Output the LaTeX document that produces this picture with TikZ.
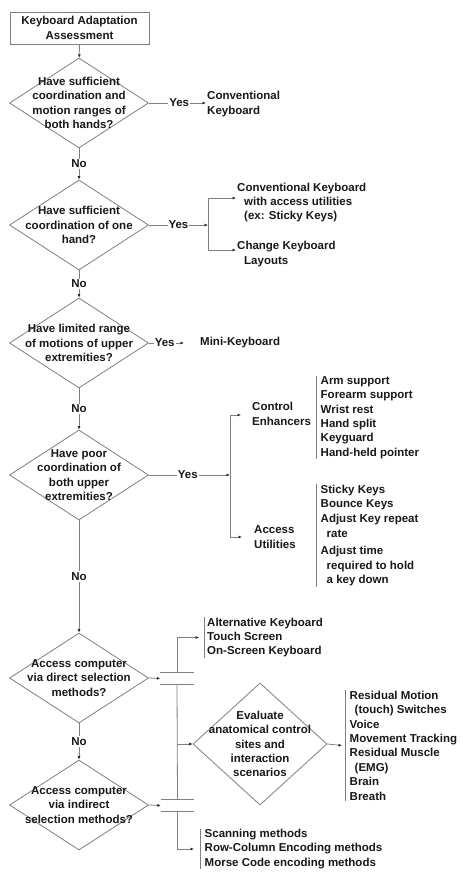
\documentclass[tikz,border=0pt]{standalone}
\usepackage{fontspec}
\setmainfont{Liberation Sans}
\usetikzlibrary{shapes.geometric,arrows.meta}
\definecolor{lg}{RGB}{128,128,128}
\definecolor{tx}{RGB}{25,25,25}
\begin{document}
\begin{tikzpicture}[x=1pt,y=-1pt,
  every node/.style={font=\fontsize{11.5}{14.4}\selectfont\bfseries, text=tx},
  ln/.style={draw=lg, line width=0.8pt},
  arr/.style={ln, -{Latex[length=3.5pt,width=3pt,color=black!85]}},
  qshape/.style={diamond, draw=lg, line width=0.8pt, minimum width=139pt, minimum height=90pt, inner sep=0pt},
  qtext/.style={align=center, inner sep=0pt},
  lab/.style={fill=white, inner sep=1pt},
  item/.style={align=left, anchor=west, inner xsep=1pt, inner ysep=1pt},
  listbox/.style={align=left, anchor=west, inner xsep=4.5pt, inner ysep=0.5pt},
  bridge/.style={minimum width=33pt, minimum height=11pt, inner sep=0pt},
  ]
\fill[white] (0,0) rectangle (461,875);
\useasboundingbox (0,0) rectangle (461,875);

% title
\node[draw=lg, line width=0.8pt, minimum width=139pt, minimum height=32pt, align=center, inner sep=0pt] (start) at (79.5,28) {Keyboard Adaptation\\Assessment};

% question 1
\node[qshape] (q1) at (79,103) {};
\node[qtext] (q1t) at (q1) {Have sufficient\\coordination and\\motion ranges of\\both hands?};
\node[item] (conv) at (206,104) {Conventional\\Keyboard};
\draw[arr] (start) -- (q1);
\draw[arr] (q1.east) -- node[lab,pos=0.53]{Yes} (q1.east -| conv.west);

% question 2
\node[qshape] (q2) at (79,225) {};
\node[qtext] (q2t) at (q2) {Have sufficient\\coordination of one\\hand?};
\draw[arr] (q1) -- node[lab]{No} (q2);
\coordinate (j2) at (208,225);
\coordinate (j2a) at (208,198);
\coordinate (j2b) at (208,250);
\node[item] (kb1) at (236,202.5) {Conventional Keyboard\\\hspace*{7pt}with access utilities\\\hspace*{7pt}(ex: Sticky Keys)};
\node[item] (kb2) at (236,254) {Change Keyboard\\\hspace*{7pt}Layouts};
\draw[arr] (q2.east) -- node[lab]{Yes} (j2);
\draw[ln] (j2a) -- (j2b);
\draw[arr] (j2a) -- (j2a -| kb1.west);
\draw[arr] (j2b) -- (j2b -| kb2.west);

% question 3
\node[qshape] (q3) at (79,343) {};
\node[qtext] (q3t) at (q3) {Have limited range\\of motions of upper\\extremities?};
\draw[arr] (q2) -- node[lab]{No} (q3);
\node[item] (mini) at (199,343) {Mini-Keyboard};
\draw[arr] (q3.east) -- node[lab,pos=0.45]{Yes} ([xshift=-15pt]mini.west);

% question 4
\node[qshape] (q4) at (79,475) {};
\node[qtext] (q4t) at (q4) {Have poor\\coordination of\\both upper\\extremities?};
\draw[arr] (q3) -- node[lab]{No} (q4);
\coordinate (j4) at (230,475);
\coordinate (j4a) at (230,415);
\coordinate (j4b) at (230,537);
\node[item] (ce) at (251,414) {Control\\Enhancers};
\node[item] (au) at (253,537) {Access\\Utilities};
\draw[arr] (q4.east) -- node[lab,pos=0.48]{Yes} (j4);
\draw[ln] (j4a) -- (j4b);
\draw[arr] (j4a) -- ([xshift=-10pt]ce.west |- j4a);
\draw[arr] (j4b) -- ([xshift=-11pt]au.west |- j4b);

\node[listbox] (cel) at (316,417.5) {Arm support\\Forearm support\\Wrist rest\\Hand split\\Keyguard\\Hand-held pointer};
\draw[ln] (cel.north west) -- (cel.south west);
\node[listbox] (aul) at (316,535.5) {Sticky Keys\\Bounce Keys\\Adjust Key repeat\\[1.2pt]\hspace*{6pt}rate\\[2.5pt]Adjust time\\\hspace*{6pt}required to hold\\\hspace*{6pt}a key down};
\draw[ln] (aul.north west) -- (aul.south west);

% question 5
\node[qshape] (q5) at (79,678) {};
\node[qtext] (q5t) at (q5) {Access computer\\via direct selection\\methods?};
\draw[arr] (q4) -- node[lab]{No} (q5);

% question 6
\node[qshape] (q6) at (79,805) {};
\node[qtext] (q6t) at (q6) {Access computer\\via indirect\\selection methods?};
\draw[arr] (q5) -- node[lab]{No} (q6);

% bridges
\node[bridge] (b1) at (177,678.5) {};
\node[bridge] (b2) at (177.5,805.5) {};
\draw[ln] (b1.north west) -- (b1.north east);
\draw[ln] (b1.south west) -- (b1.south east);
\draw[ln] (b2.north west) -- (b2.north east);
\draw[ln] (b2.south west) -- (b2.south east);
\draw[arr] (q5.east) -- (b1.west);
\draw[arr] (q6.east) -- (b2.west);

% direct list
\node[listbox, inner xsep=3pt] (dl) at (204,637.5) {Alternative Keyboard\\Touch Screen\\On-Screen Keyboard};
\draw[ln] (dl.north west) -- (dl.south west);
\draw[arr] (b1.north) |- ([xshift=-5pt]dl.west);

% evaluate
\node[diamond, draw=lg, line width=0.8pt, minimum width=134pt, minimum height=122pt, inner sep=0pt] (ev) at (260,744) {};
\node[qtext] (evt) at (ev) {Evaluate\\anatomical control\\sites and\\interaction\\scenarios};
\draw[ln] (b1.south) -- (b2.north);
\draw[arr] (b1.south |- ev.west) -- (ev.west);

\node[listbox] (el) at (345,745.5) {Residual Motion\\\hspace*{5pt}(touch) Switches\\Voice\\Movement Tracking\\Residual Muscle\\\hspace*{5pt}(EMG)\\Brain\\Breath};
\draw[ln] (el.north west) -- (el.south west);
\draw[arr] (ev.east) -- ([xshift=-3pt]el.west);

% indirect list
\node[listbox] (il) at (200,849) {Scanning methods\\Row-Column Encoding methods\\Morse Code encoding methods};
\draw[ln] (il.north west) -- (il.south west);
\draw[arr] (b2.south) |- ([xshift=-6pt]il.west);
\end{tikzpicture}
\end{document}
